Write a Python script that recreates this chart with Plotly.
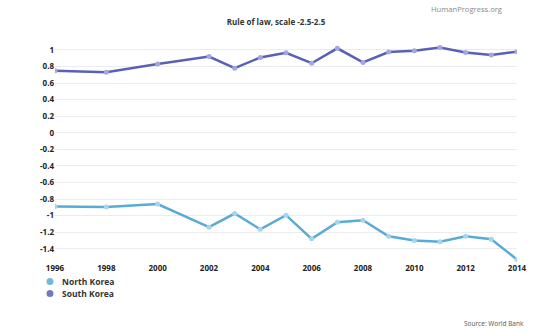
import plotly.graph_objects as go

years = [1996, 1998, 2000, 2002, 2003, 2004, 2005, 2006, 2007, 2008,
         2009, 2010, 2011, 2012, 2013, 2014]
north_korea = [-0.89, -0.895, -0.86, -1.14, -0.975, -1.165, -0.995, -1.28,
               -1.08, -1.055, -1.25, -1.30, -1.315, -1.25, -1.285, -1.53]
south_korea = [0.75, 0.73, 0.83, 0.92, 0.78, 0.91, 0.965, 0.84,
               1.02, 0.85, 0.975, 0.99, 1.03, 0.97, 0.94, 0.98]
x_ticks = [1996, 1998, 2000, 2002, 2004, 2006, 2008, 2010, 2012, 2014]
y_ticks = [1, 0.8, 0.6, 0.4, 0.2, 0, -0.2, -0.4, -0.6, -0.8, -1, -1.2, -1.4]

series = [
    ("North Korea", north_korea, "#5aaad6", "#a6d4ee"),
    ("South Korea", south_korea, "#5b60b6", "#a3a6e2"),
]

FONT = "Open Sans"
W, H = 540, 334
ML, MR, MT, MB = 55, 23, 45, 72
PW, PH = W - ML - MR, H - MT - MB


def px_x(px):
    return (px - ML) / PW


def px_y(py):
    return (H - MB - py) / PH


fig = go.Figure()
for name, vals, line_c, mark_c in series:
    fig.add_trace(go.Scatter(
        x=years, y=vals, mode="lines+markers", name=name, showlegend=False,
        line=dict(color=line_c, width=2.5),
        marker=dict(color=mark_c, size=5),
    ))

# compact legend below the plot: a dot and a label per series
shapes, annotations = [], []
for i, (name, _, line_c, _) in enumerate(series):
    cy = 281.5 + 12 * i
    shapes.append(dict(
        type="circle", xref="paper", yref="paper",
        xsizemode="pixel", ysizemode="pixel",
        xanchor=px_x(50), yanchor=px_y(cy),
        x0=-3.5, x1=3.5, y0=-3.5, y1=3.5,
        fillcolor=line_c, opacity=0.85, line=dict(width=0),
    ))
    annotations.append(dict(
        text=name, xref="paper", yref="paper", x=px_x(60), y=px_y(cy),
        xanchor="left", yanchor="middle", showarrow=False,
        font=dict(family=FONT, size=8.5, color="#333333", weight=700),
    ))

annotations += [
    dict(text="HumanProgress.org", xref="paper", yref="paper",
         x=px_x(504), y=px_y(9), xanchor="right", yanchor="middle",
         showarrow=False, font=dict(family=FONT, size=7.6, color="#888888")),
    dict(text="Source: World Bank", xref="paper", yref="paper",
         x=px_x(526), y=px_y(323), xanchor="right", yanchor="middle",
         showarrow=False, font=dict(family=FONT, size=6.5, color="#555555")),
]

tick_font = dict(family=FONT, size=8, color="#222222", weight=700)

fig.update_layout(
    width=W, height=H, showlegend=False,
    margin=dict(l=ML, r=MR, t=MT, b=MB, autoexpand=False),
    paper_bgcolor="white", plot_bgcolor="white",
    font=dict(family=FONT, color="#333333"),
    title=dict(text="Rule of law, scale -2.5-2.5", x=276 / W, xanchor="center",
               y=1 - 22 / H, yanchor="middle",
               font=dict(family=FONT, size=8, color="#333333", weight=700)),
    xaxis=dict(range=[1996, 2014], tickvals=x_ticks, showgrid=False,
               zeroline=False, showline=False, ticks="", tickfont=tick_font),
    yaxis=dict(range=[-1.56, 1.06], tickvals=y_ticks,
               ticktext=[f"{v:g}" for v in y_ticks],
               showgrid=True, gridcolor="#ececec", gridwidth=1,
               zeroline=False, showline=False, ticks="", tickfont=tick_font),
    shapes=shapes,
    annotations=annotations,
)

fig.write_html("out.html")
